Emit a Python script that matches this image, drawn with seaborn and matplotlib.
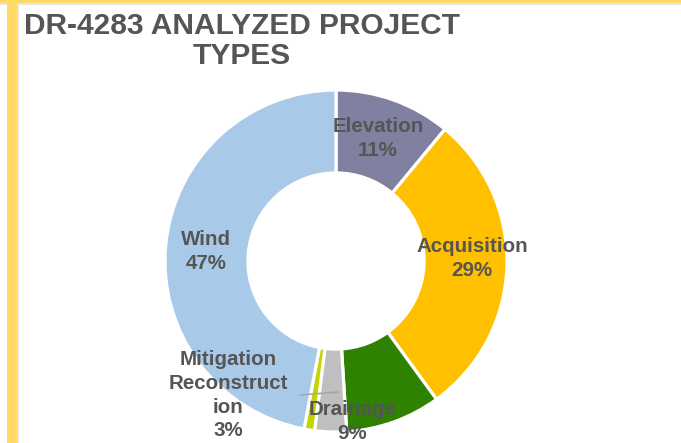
import matplotlib
matplotlib.use("Agg")
import matplotlib.pyplot as plt
import seaborn as sns
import numpy as np
from matplotlib.patches import Rectangle
from matplotlib.lines import Line2D

# ---- data ----
categories = ["Elevation", "Acquisition", "Drainage", "Mitigation\nReconstruct\nion", "Other", "Wind"]
values = [11, 29, 9, 3, 1, 47]
show_label = [True, True, True, True, False, True]
colors = ["#8080A0", "#FFC000", "#2F8200", "#BFBFBF", "#C5D300", "#A8CAE8"]
title = "DR-4283 ANALYZED PROJECT\nTYPES"

sns.set_theme(style="white")
plt.rcParams['font.family'] = ['Liberation Sans', 'DejaVu Sans']

W, H = 681, 443
fig = plt.figure(figsize=(W / 100, H / 100), dpi=100)
fig.patch.set_facecolor("white")

cx, cy, R = 336, 261, 171
ax = fig.add_axes([(cx - R) / W, (H - cy - R) / H, 2 * R / W, 2 * R / H])
ax.axis("off")

pal = sns.color_palette(colors)
wedges, _ = ax.pie(values, colors=pal, startangle=90, counterclock=False, radius=1,
                   wedgeprops=dict(width=0.485, edgecolor="white", linewidth=2.3))
ax.set_xlim(-1, 1)
ax.set_ylim(-1, 1)

# label layout: offsets from the donut centre, in units of the outer radius
label_layout = {
    "Elevation": (0.245, 0.715),
    "Acquisition": (0.795, 0.012),
    "Drainage": (0.094, -0.936),
    "Mitigation\nReconstruct\nion": (-0.632, -0.784),
    "Wind": (-0.760, 0.053),
}
txtc = "#555555"
for cat, v, show in zip(categories, values, show_label):
    if not show:
        continue
    x, y = label_layout[cat]
    ax.text(x, y, f"{cat}\n{v}%", ha="center", va="center", fontsize=14.8,
            fontweight="bold", color=txtc, linespacing=1.33, clip_on=False)

# leader line for Mitigation Reconstruction
ax.add_line(Line2D([(300 - cx) / R, (338 - cx) / R], [(cy - 395) / R, (cy - 392) / R],
                   color="#A6A6A6", lw=1.2, clip_on=False))

fig.text(242 / W, 1 - 41 / H, title, ha="center", va="center", fontsize=21.5,
         fontweight="bold", color=txtc, linespacing=1.05)

# frame
fig.patches.append(Rectangle((0, 1 - 3 / H), 1, 3 / H, transform=fig.transFigure,
                             facecolor="#FFD966", edgecolor="none"))
fig.patches.append(Rectangle((0, 1 - 5 / H), 1, 2 / H, transform=fig.transFigure,
                             facecolor="#E4E4EC", edgecolor="none"))
fig.patches.append(Rectangle((7 / W, 0), 10 / W, 1, transform=fig.transFigure,
                             facecolor="#FFD966", edgecolor="none"))
fig.patches.append(Rectangle((17 / W, 0), 2 / W, 1 - 3 / H, transform=fig.transFigure,
                             facecolor="#E4E4EC", edgecolor="none"))

fig.savefig("out.png", dpi=100, facecolor="white")
